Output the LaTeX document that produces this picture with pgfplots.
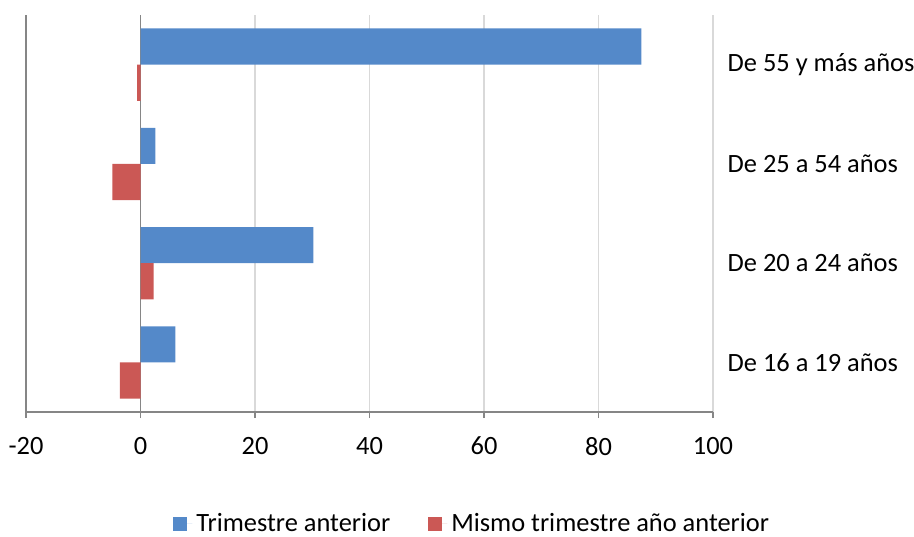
\documentclass[border=0pt]{standalone}
\usepackage{fontspec}
\setmainfont{Carlito}
\usepackage{pgfplots}
\pgfplotsset{compat=1.18}
\definecolor{barblue}{RGB}{84,137,201}
\definecolor{barred}{RGB}{203,88,85}
\definecolor{axgray}{RGB}{134,134,134}
\definecolor{gridgray}{RGB}{217,217,217}
\begin{document}
\begin{tikzpicture}
\path[use as bounding box] (-13pt,-62pt) rectangle (444pt,206pt);
\begin{axis}[
 at={(0,0)}, anchor=south west,
 scale only axis, width=343.5pt, height=198.5pt,
 xbar, bar width=0.364,
 xmin=-20, xmax=100, ymin=-0.5, ymax=3.5,
 xtick={-20,0,20,40,60,80,100},
 xticklabels={-20,0,20,40,60,80,100},
 xtick pos=bottom, xtick align=outside,
 major tick length=3pt,
 xtick style={axgray, line width=0.8pt},
 ytick={0,1,2,3},
 yticklabels={De 16 a 19 años, De 20 a 24 años, De 25 a 54 años, De 55 y más años},
 ytick pos=right, yticklabel pos=right,
 ytick style={draw=none},
 axis line style={draw=none},
 xmajorgrids, grid style={gridgray, line width=0.8pt},
 tick label style={font=\fontsize{13.2}{15.5}\selectfont},
 xticklabel style={yshift=-6pt},
 yticklabel style={xshift=0.8pt},
 legend style={at={(0.651,-0.282)}, anchor=center, draw=none, fill=none,
   legend columns=2, font=\fontsize{13.2}{15.5}\selectfont,
   /tikz/every even column/.append style={column sep=17pt}},
 legend image code/.code={\fill[#1, draw=none] (0pt,-3.5pt) rectangle (7pt,3.5pt); \path (0pt,0pt) -- (9.5pt,0pt);},
 clip=false,
]
\draw[axgray, line width=0.8pt] (axis cs:0,-0.5) -- (axis cs:0,3.5);
\addplot[fill=barblue, draw=none, bar shift=0.182] coordinates {(6.1,0) (30.2,1) (2.6,2) (87.5,3)};
\addplot[fill=barred, draw=none, bar shift=-0.182] coordinates {(-3.6,0) (2.3,1) (-4.9,2) (-0.6,3)};
\draw[axgray, line width=0.8pt] (axis cs:-20,-0.5) -- (axis cs:-20,3.5);
\draw[axgray, line width=0.8pt] (axis cs:-20,-0.5) -- (axis cs:100,-0.5);
\legend{Trimestre anterior, Mismo trimestre año anterior}
\end{axis}
\end{tikzpicture}
\end{document}
